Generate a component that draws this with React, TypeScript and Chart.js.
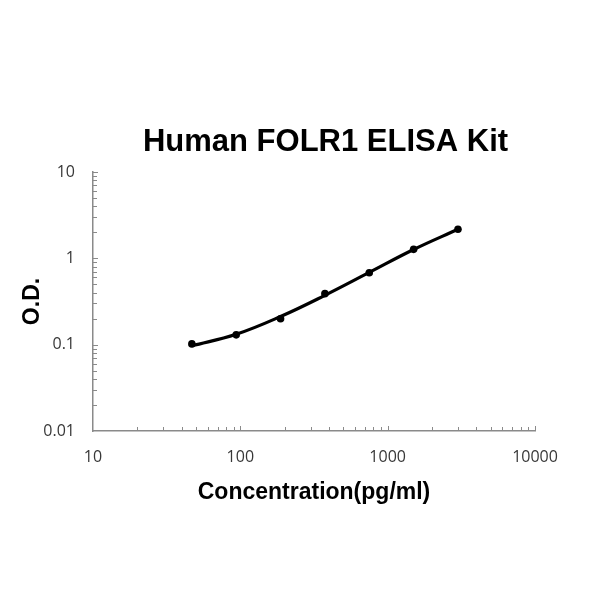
import React, { useEffect, useRef } from "react";
import { Chart, registerables } from "chart.js";

Chart.register(...registerables);

const titleText = "Human FOLR1 ELISA Kit";
const xAxisTitle = "Concentration(pg/ml)";
const yAxisTitle = "O.D.";
const concentrations = [46.875, 93.75, 187.5, 375, 750, 1500, 3000];
const odValues = [0.102, 0.13, 0.2, 0.39, 0.68, 1.27, 2.17];
// fitted standard curve at the same concentrations
const fitCurveValues = [0.097, 0.132, 0.212, 0.373, 0.687, 1.265, 2.17];
const xMajorTicks = [10, 100, 1000, 10000];
const yMajorTicks = [0.01, 0.1, 1, 10];
const minorMultipliers = [2, 3, 4, 5, 6, 7, 8, 9];

const AXIS_COLOR = "#8a8a8a";
const TITLE_FONT = "bold 31px 'Liberation Sans', Arial, sans-serif";

const titlePlugin = {
  id: "centeredTitle",
  afterDraw(chart: any) {
    const ctx = chart.ctx;
    ctx.save();
    ctx.font = TITLE_FONT;
    ctx.fillStyle = "#000000";
    ctx.textAlign = "center";
    ctx.textBaseline = "middle";
    ctx.fillText(titleText, 325.5, 142);
    ctx.restore();
  },
};

const tickMarksPlugin = {
  id: "tickMarks",
  afterDraw(chart: any) {
    const ctx = chart.ctx;
    const xs = chart.scales.x;
    const ys = chart.scales.y;
    const area = chart.chartArea;
    ctx.save();
    ctx.strokeStyle = AXIS_COLOR;
    ctx.lineWidth = 1;
    const drawX = (v: number, len: number) => {
      const px = Math.round(xs.getPixelForValue(v)) + 0.5;
      ctx.beginPath();
      ctx.moveTo(px, area.bottom);
      ctx.lineTo(px, area.bottom - len);
      ctx.stroke();
    };
    const drawY = (v: number, len: number) => {
      const py = Math.round(ys.getPixelForValue(v)) + 0.5;
      ctx.beginPath();
      ctx.moveTo(area.left, py);
      ctx.lineTo(area.left + len, py);
      ctx.stroke();
    };
    xMajorTicks.forEach((d, i) => {
      if (i > 0) drawX(d, 5);
      if (i < xMajorTicks.length - 1) minorMultipliers.forEach((m) => drawX(d * m, 4));
    });
    yMajorTicks.forEach((d, i) => {
      if (i > 0) drawY(d, 5);
      if (i < yMajorTicks.length - 1) minorMultipliers.forEach((m) => drawY(d * m, 4));
    });
    ctx.restore();
  },
};

export default function App() {
  const canvasRef = useRef<HTMLCanvasElement>(null);

  useEffect(() => {
    const canvas = canvasRef.current;
    if (!canvas) return;
    const chart = new Chart(canvas, {
      type: "line",
      data: {
        datasets: [
          {
            label: "Fit",
            data: concentrations.map((c, i) => ({ x: c, y: fitCurveValues[i] })),
            borderColor: "#000000",
            borderWidth: 3.2,
            pointRadius: 0,
            tension: 0.4,
            fill: false,
          },
          {
            label: "Standards",
            data: concentrations.map((c, i) => ({ x: c, y: odValues[i] })),
            showLine: false,
            borderColor: "#000000",
            backgroundColor: "#000000",
            pointRadius: 3.8,
            pointBackgroundColor: "#000000",
            pointBorderWidth: 0,
          },
        ],
      },
      options: {
        animation: false,
        responsive: false,
        maintainAspectRatio: false,
        layout: { padding: { top: 172, right: 65, bottom: 0, left: 0 } },
        plugins: {
          legend: { display: false },
          tooltip: { enabled: false },
          title: { display: false },
        },
        scales: {
          x: {
            type: "logarithmic",
            min: 10,
            max: 10000,
            afterBuildTicks: (scale: any) => {
              scale.ticks = xMajorTicks.map((v) => ({ value: v }));
            },
            afterFit: (scale: any) => {
              scale.height = 169;
            },
            ticks: {
              autoSkip: false,
              maxRotation: 0,
              padding: 17,
              color: "#383838",
              font: { family: "'Open Sans', sans-serif", size: 16 },
              callback: (v: any) => String(v),
            },
            grid: { display: false, drawTicks: false },
            border: { display: true, color: AXIS_COLOR, width: 1.5 },
            title: {
              display: true,
              text: xAxisTitle,
              color: "#000000",
              font: { family: "'Liberation Sans', Arial, sans-serif", size: 23, weight: "bold" },
              padding: { top: 0, bottom: 94 },
            },
          },
          y: {
            type: "logarithmic",
            min: 0.01,
            max: 10,
            afterBuildTicks: (scale: any) => {
              scale.ticks = yMajorTicks.map((v) => ({ value: v }));
            },
            afterFit: (scale: any) => {
              scale.width = 93;
            },
            ticks: {
              autoSkip: false,
              padding: 18,
              color: "#383838",
              font: { family: "'Open Sans', sans-serif", size: 16 },
              callback: (v: any) => String(v),
            },
            grid: { display: false, drawTicks: false },
            border: { display: true, color: AXIS_COLOR, width: 1.5 },
            title: {
              display: true,
              text: yAxisTitle,
              color: "#000000",
              font: { family: "'Liberation Sans', Arial, sans-serif", size: 23, weight: "bold" },
              padding: { top: 19, bottom: 0 },
            },
          },
        },
      },
      plugins: [tickMarksPlugin, titlePlugin],
    } as any);
    return () => chart.destroy();
  }, []);

  return (
    <div style={{ position: "fixed", left: 0, top: 0, width: 600, height: 600, background: "#ffffff" }}>
      <canvas ref={canvasRef} width={600} height={600} style={{ width: 600, height: 600, display: "block" }} />
    </div>
  );
}
